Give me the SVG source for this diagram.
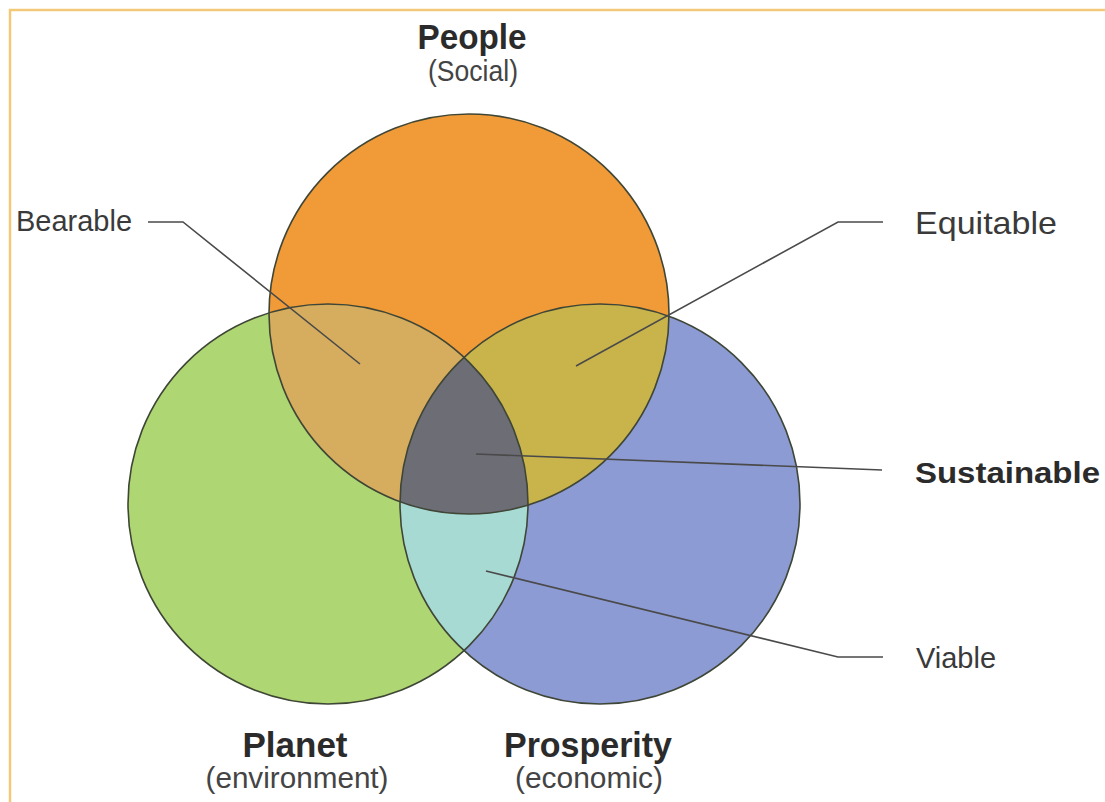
<svg xmlns="http://www.w3.org/2000/svg" width="1105" height="802" viewBox="0 0 1105 802">
  <style>
    .title { font-family: "Liberation Sans", Arial, sans-serif; font-weight: bold; fill: #2b2b2b; }
    .sub { font-family: "Liberation Sans", Arial, sans-serif; fill: #444; }
    .lbl { font-family: "Liberation Sans", Arial, sans-serif; fill: #3a3a3a; }
    .edge { fill: none; stroke: #4a4a4a; stroke-width: 1.6; }
    .outline { fill: none; stroke: #3f4636; stroke-width: 1.6; }
  </style>
  <defs>
    <clipPath id="cPeople"><circle cx="469" cy="314" r="200"/></clipPath>
    <clipPath id="cPlanet"><circle cx="328" cy="504" r="200"/></clipPath>
  </defs>
  <rect x="0" y="0" width="1105" height="802" fill="#ffffff"/>
  <path d="M10 802 V10 H1105" fill="none" stroke="#f3c979" stroke-width="2.5"/>

  <g id="people">
    <circle cx="469" cy="314" r="200" fill="#F09A38"/>
  </g>
  <g id="planet">
    <circle cx="328" cy="504" r="200" fill="#AED672"/>
  </g>
  <g id="prosperity">
    <circle cx="600" cy="504" r="200" fill="#8C9BD3"/>
  </g>
  <g id="bearable-region">
    <circle cx="328" cy="504" r="200" fill="#D6AD5E" clip-path="url(#cPeople)"/>
  </g>
  <g id="equitable-region">
    <circle cx="600" cy="504" r="200" fill="#C9B44C" clip-path="url(#cPeople)"/>
  </g>
  <g id="viable-region">
    <circle cx="600" cy="504" r="200" fill="#A7DAD3" clip-path="url(#cPlanet)"/>
  </g>
  <g id="sustainable-region" clip-path="url(#cPeople)">
    <circle cx="600" cy="504" r="200" fill="#6D6D76" clip-path="url(#cPlanet)"/>
  </g>
  <g id="outlines">
    <circle class="outline" cx="469" cy="314" r="200"/>
    <circle class="outline" cx="328" cy="504" r="200"/>
    <circle class="outline" cx="600" cy="504" r="200"/>
  </g>

  <g id="connectors">
    <polyline class="edge" points="148,222 183,222 360,364"/>
    <polyline class="edge" points="883,222 838,222 576,366"/>
    <polyline class="edge" points="476,454 882,470"/>
    <polyline class="edge" points="486,571 838,657 883,657"/>
  </g>

  <g id="label-people">
    <text class="title" x="472" y="49" font-size="35" text-anchor="middle" textLength="109" lengthAdjust="spacingAndGlyphs">People</text>
    <text class="sub" x="473" y="81" font-size="29" text-anchor="middle" textLength="90" lengthAdjust="spacingAndGlyphs">(Social)</text>
  </g>
  <g id="label-planet">
    <text class="title" x="295" y="757" font-size="35" text-anchor="middle" textLength="105" lengthAdjust="spacingAndGlyphs">Planet</text>
    <text class="sub" x="297" y="788" font-size="29" text-anchor="middle" textLength="183" lengthAdjust="spacingAndGlyphs">(environment)</text>
  </g>
  <g id="label-prosperity">
    <text class="title" x="588" y="757" font-size="35" text-anchor="middle" textLength="168" lengthAdjust="spacingAndGlyphs">Prosperity</text>
    <text class="sub" x="589" y="788" font-size="29" text-anchor="middle" textLength="148" lengthAdjust="spacingAndGlyphs">(economic)</text>
  </g>
  <g id="label-bearable">
    <text class="lbl" x="16" y="231" font-size="30" textLength="116" lengthAdjust="spacingAndGlyphs">Bearable</text>
  </g>
  <g id="label-equitable">
    <text class="lbl" x="915" y="234" font-size="32" textLength="142" lengthAdjust="spacingAndGlyphs">Equitable</text>
  </g>
  <g id="label-sustainable">
    <text class="title" x="915" y="483" font-size="30" textLength="185" lengthAdjust="spacingAndGlyphs">Sustainable</text>
  </g>
  <g id="label-viable">
    <text class="lbl" x="916" y="668" font-size="30" textLength="80" lengthAdjust="spacingAndGlyphs">Viable</text>
  </g>
</svg>
